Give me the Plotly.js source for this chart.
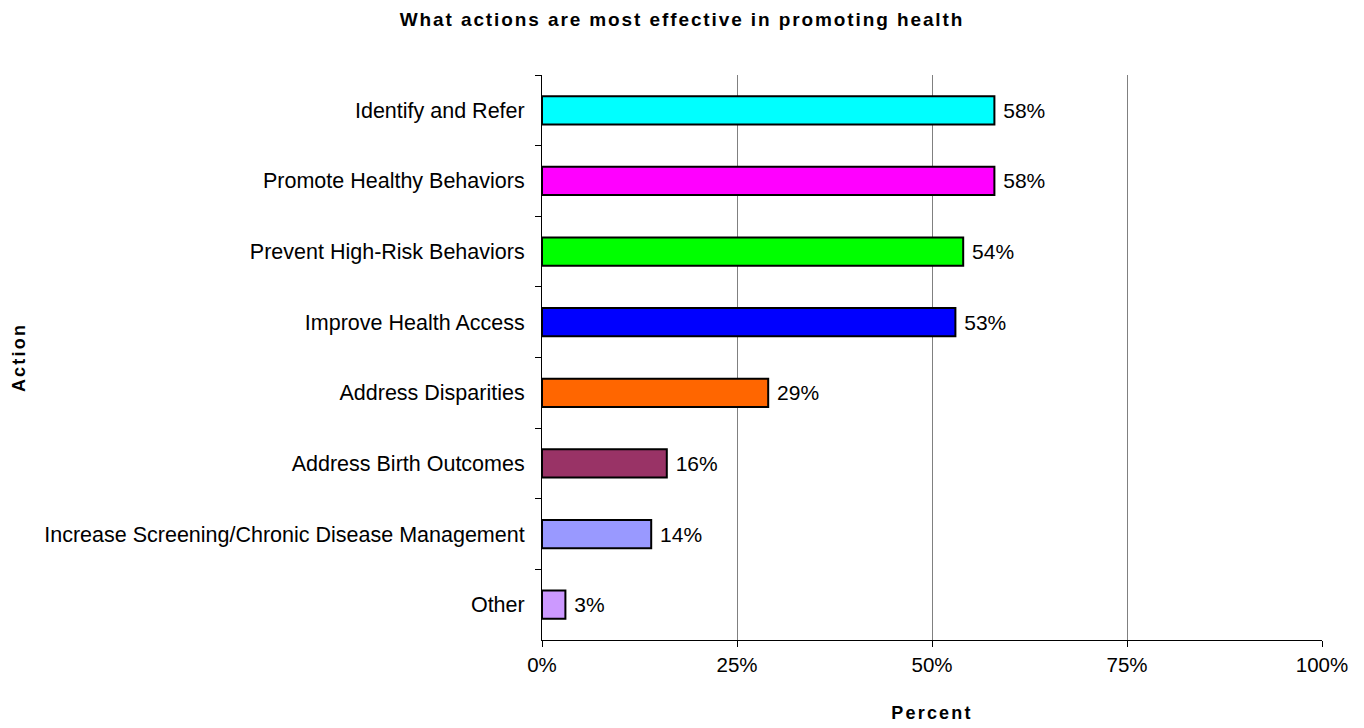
<!DOCTYPE html>
<html>
<head>
<meta charset="utf-8">
<script src="https://cdn.plot.ly/plotly-3.0.1.min.js"></script>
<style>
html,body{margin:0;padding:0;background:#fff}
#chart{width:1364px;height:728px}
.gtitle { letter-spacing: 1.9px; }
.xtitle, .ytitle { letter-spacing: 2.2px; }
</style>
</head>
<body>
<div id="chart"></div>
<script>
const categories = [
  "Identify and Refer",
  "Promote Healthy Behaviors",
  "Prevent High-Risk Behaviors",
  "Improve Health Access",
  "Address Disparities",
  "Address Birth Outcomes",
  "Increase Screening/Chronic Disease Management",
  "Other"
];
const percentValues = [58, 58, 54, 53, 29, 16, 14, 3];
const barColors = ["#00FFFF", "#FF00FF", "#00FF00", "#0000FF", "#FF6600", "#993366", "#9999FF", "#CC99FF"];
const xTickVals = [0, 25, 50, 75, 100];
const xTickText = ["0%", "25%", "50%", "75%", "100%"];

const trace = {
  type: "bar",
  orientation: "h",
  y: categories,
  x: percentValues,
  width: 0.4,
  marker: { color: barColors, line: { color: "#000000", width: 2 } },
  text: percentValues.map(v => " " + v + "%"),
  textposition: "outside",
  cliponaxis: false,
  textfont: { family: "Liberation Sans, Arial, sans-serif", size: 21, color: "#000" },
  hoverinfo: "skip"
};

const layout = {
  width: 1364, height: 728,
  margin: { l: 542, r: 42, t: 75, b: 88 },
  paper_bgcolor: "#fff", plot_bgcolor: "#fff",
  showlegend: false,
  font: { family: "Liberation Sans, Arial, sans-serif", size: 21, color: "#000" },
  title: {
    text: "<b>What actions are most effective in promoting health</b>",
    font: { family: "Liberation Sans, Arial, sans-serif", size: 19, color: "#000" },
    x: 0.5, xanchor: "center", y: 0.974, yanchor: "middle"
  },
  xaxis: {
    range: [0, 100],
    tickvals: xTickVals, ticktext: xTickText,
    ticks: "outside", ticklen: 6, tickcolor: "#000",
    showline: true, linecolor: "#000", linewidth: 1,
    showgrid: true, gridcolor: "#808080", gridwidth: 1,
    zeroline: false,
    tickfont: { size: 20.5 },
    title: { text: "<b>Percent</b>", font: { size: 18 }, standoff: 31 }
  },
  yaxis: {
    autorange: "reversed",
    type: "category",
    ticks: "outside", tickson: "boundaries", ticklen: 6, tickcolor: "#000",
    showline: true, linecolor: "#000", linewidth: 1,
    showgrid: false, zeroline: false,
    ticklabelstandoff: 12,
    tickfont: { size: 21.5 },
    title: { text: "<b>Action</b>", font: { size: 18 }, standoff: 13 }
  },
  bargap: 0.6
};

Plotly.newPlot("chart", [trace], layout, { displayModeBar: false, staticPlot: true });
</script>
</body>
</html>
